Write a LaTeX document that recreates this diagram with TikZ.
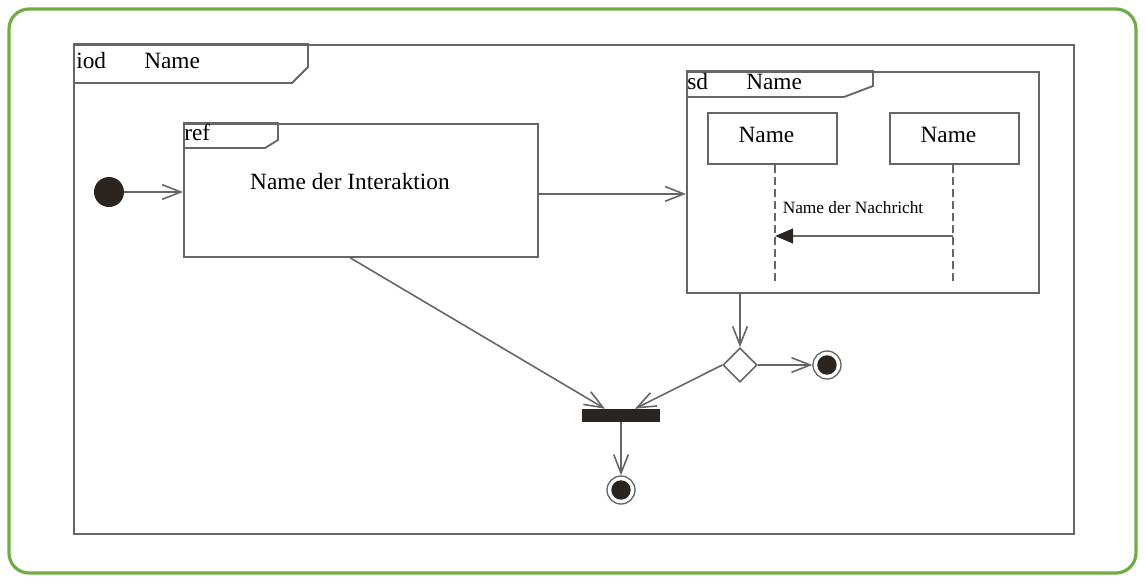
\documentclass[tikz,border=0pt]{standalone}
\usepackage{fontspec}
\setmainfont{Liberation Serif}
\usetikzlibrary{arrows.meta,shapes.geometric,calc,positioning}
\definecolor{dark}{HTML}{2B2521}
\definecolor{wire}{HTML}{666666}
\definecolor{leaf}{HTML}{70AD47}
\newcommand{\bigtxt}{\fontsize{17.5}{21}\selectfont}
\newcommand{\smalltxt}{\fontsize{13}{16}\selectfont}

\begin{document}
\begin{tikzpicture}[x=0.75pt,y=-0.75pt,
    frame/.style={draw=wire, line width=1.4pt, inner sep=0pt, anchor=north west},
    head/.style={draw=wire, line width=1.4pt, minimum width=96.75pt, minimum height=38.25pt, inner sep=0pt, anchor=north west},
    flow/.style={draw=wire, line width=1.2pt, -{Straight Barb[length=14pt,width=11pt]}},
    start/.style={circle, fill=dark, minimum size=22.5pt, inner sep=0pt},
    stop/.style={circle, draw=wire, line width=1pt, minimum size=21pt, inner sep=0pt,
      path picture={\fill[dark] (path picture bounding box.center) circle (7.3pt);}},
    decision/.style={diamond, draw=wire, line width=1.2pt, minimum size=25.5pt, inner sep=0pt, aspect=1, fill=white},
    tabtxt/.style={anchor=west, inner sep=0pt, font=\bigtxt}]
  \useasboundingbox (0,0) rectangle (1145,582);
  \draw[leaf, line width=2.4pt, rounded corners=15pt] (9,9) rectangle (1136,573);

  % outer frame
  \node[frame, minimum width=750pt, minimum height=366.75pt] (iod) at (73,44) {};
  \draw[wire, line width=1.4pt] (iod.north west) -- ++(235,0) -- ++(0,23) -- ++(-16,16) -- ++(-219,0);
  \node[tabtxt] (iodkw) at (76,61) {iod};
  \node[tabtxt] (iodname) at (144,61) {Name};

  % interaction use
  \node[frame, minimum width=265.5pt, minimum height=99.75pt] (ref) at (183,123) {};
  \draw[wire, line width=1.4pt] (ref.north west) -- ++(95,0) -- ++(0,17) -- ++(-13,8) -- ++(-82,0);
  \node[tabtxt] (refkw) at (184,132) {ref};
  \node[font=\bigtxt] (refname) at (350,182) {Name der Interaktion};

  % sequence diagram
  \node[frame, minimum width=264pt, minimum height=165.75pt] (sd) at (686,71) {};
  \draw[wire, line width=1.4pt] (sd.north west) -- ++(187,0) -- ++(0,15) -- ++(-29,11) -- ++(-158,0);
  \node[tabtxt] (sdkw) at (687,82) {sd};
  \node[tabtxt] (sdname) at (746,82) {Name};
  \node[head, label={[font=\bigtxt, xshift=-4.5pt, yshift=2.5pt]center:Name}] (headA) at (707,112) {};
  \node[head, label={[font=\bigtxt, xshift=-4.5pt, yshift=2.5pt]center:Name}] (headB) at (889,112) {};
  \coordinate (endA) at (775,283);
  \coordinate (endB) at (953,283);
  \draw[wire, line width=1.2pt, dash pattern=on 6pt off 3pt] (headA.south -| endA) -- (endA);
  \draw[wire, line width=1.2pt, dash pattern=on 6pt off 3pt] (headB.south -| endB) -- (endB);
  \coordinate (msgA) at (775,236);
  \coordinate (msgB) at (953,236);
  \draw[wire, line width=1.4pt, -{Triangle[length=13.5pt,width=11pt,color=dark]}] (msgB) -- (msgA);
  \node[font=\smalltxt] (msg) at (853,208) {Name der Nachricht};

  % control flow
  \node[start] (init) at (109,192) {};
  \node[decision] (dec) at (740,365) {};
  \node[stop] (finA) at (827,365) {};
  \node[fill=dark, minimum width=58.5pt, minimum height=9.75pt, inner sep=0pt] (bar) at (621,415.5) {};
  \node[stop] (finB) at (621,490) {};

  \draw[flow] (init) -- (init -| ref.west);
  \draw[flow] ([yshift=-2.6pt]ref.east) -- ([yshift=-2.6pt]ref.east -| sd.west);
  \draw[flow] (dec.north |- sd.south) -- (dec.north);
  \draw[flow] (dec.east) -- (finA);
  \draw[flow] (dec.west) -- ([xshift=10.5pt]bar.north);
  \draw[flow] ([xshift=-8pt]ref.south) -- ([xshift=-12pt]bar.north);
  \draw[flow] (bar.south) -- (finB);
\end{tikzpicture}
\end{document}
